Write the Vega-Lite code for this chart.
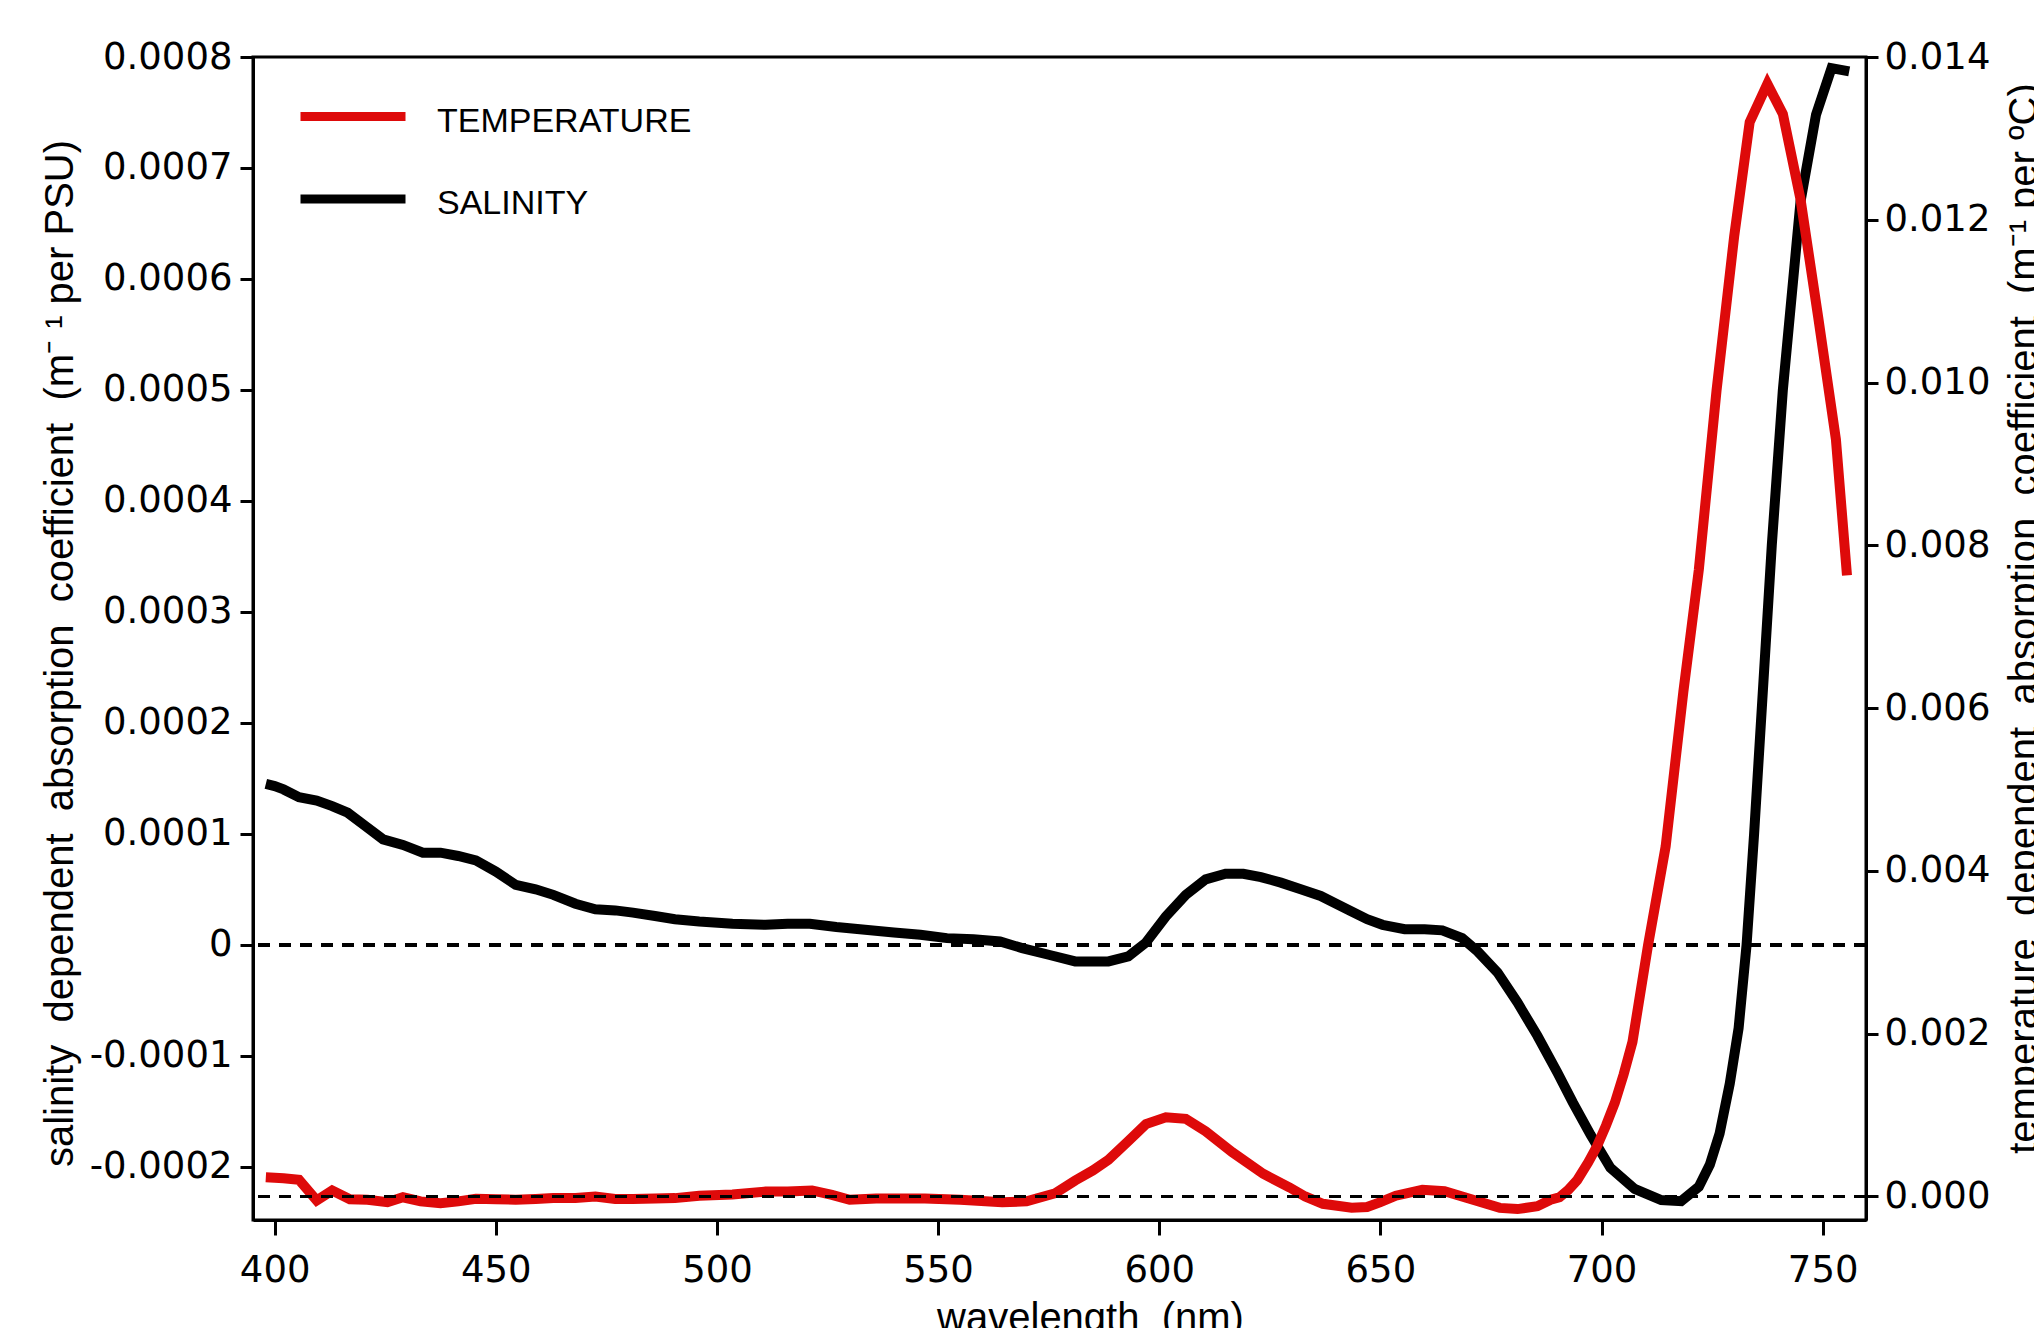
{
  "$schema": "https://vega.github.io/schema/vega-lite/v6.json",
  "width": 1613,
  "height": 1163,
  "autosize": {"type": "none"},
  "padding": {"left": 253, "top": 57, "right": 168, "bottom": 108},
  "background": "white",
  "config": {
    "font": "Liberation Sans",
    "view": {"stroke": "black", "strokeWidth": 3},
    "axis": {
      "grid": false,
      "domainColor": "black",
      "domainWidth": 3,
      "tickColor": "black",
      "tickWidth": 3,
      "labelColor": "black",
      "titleColor": "black",
      "labelFont": "DejaVu Sans",
      "titleFont": "Liberation Sans",
      "labelFontSize": 37,
      "titleFontSize": 40,
      "titleFontWeight": "normal",
      "labelOverlap": false,
      "labelFlush": false
    }
  },
  "data": {
    "values": [
      {"wl": 398, "v": 0.000145, "s": "SALINITY"},
      {"wl": 400, "v": 0.000143, "s": "SALINITY"},
      {"wl": 402, "v": 0.000140, "s": "SALINITY"},
      {"wl": 405.5, "v": 0.000133, "s": "SALINITY"},
      {"wl": 409.5, "v": 0.000130, "s": "SALINITY"},
      {"wl": 413, "v": 0.000125, "s": "SALINITY"},
      {"wl": 416.5, "v": 0.000119, "s": "SALINITY"},
      {"wl": 420.5, "v": 0.000107, "s": "SALINITY"},
      {"wl": 424.5, "v": 0.000095, "s": "SALINITY"},
      {"wl": 429, "v": 0.000090, "s": "SALINITY"},
      {"wl": 433.5, "v": 0.000083, "s": "SALINITY"},
      {"wl": 437.5, "v": 0.000083, "s": "SALINITY"},
      {"wl": 441.5, "v": 0.000080, "s": "SALINITY"},
      {"wl": 445.5, "v": 0.000076, "s": "SALINITY"},
      {"wl": 450, "v": 0.000066, "s": "SALINITY"},
      {"wl": 454.5, "v": 0.000054, "s": "SALINITY"},
      {"wl": 459, "v": 0.000050, "s": "SALINITY"},
      {"wl": 463, "v": 0.000045, "s": "SALINITY"},
      {"wl": 468, "v": 0.000037, "s": "SALINITY"},
      {"wl": 472.5, "v": 0.000032, "s": "SALINITY"},
      {"wl": 477, "v": 0.000031, "s": "SALINITY"},
      {"wl": 481, "v": 0.000029, "s": "SALINITY"},
      {"wl": 486, "v": 0.000026, "s": "SALINITY"},
      {"wl": 490.5, "v": 0.000023, "s": "SALINITY"},
      {"wl": 496, "v": 0.000021, "s": "SALINITY"},
      {"wl": 503.5, "v": 0.000019, "s": "SALINITY"},
      {"wl": 511, "v": 0.000018, "s": "SALINITY"},
      {"wl": 516, "v": 0.000019, "s": "SALINITY"},
      {"wl": 521, "v": 0.000019, "s": "SALINITY"},
      {"wl": 527, "v": 0.000016, "s": "SALINITY"},
      {"wl": 533.5, "v": 0.0000135, "s": "SALINITY"},
      {"wl": 540, "v": 0.000011, "s": "SALINITY"},
      {"wl": 546, "v": 0.000009, "s": "SALINITY"},
      {"wl": 552, "v": 0.000006, "s": "SALINITY"},
      {"wl": 558, "v": 0.000005, "s": "SALINITY"},
      {"wl": 564, "v": 0.000003, "s": "SALINITY"},
      {"wl": 569, "v": -0.000003, "s": "SALINITY"},
      {"wl": 575, "v": -0.000009, "s": "SALINITY"},
      {"wl": 581, "v": -0.000015, "s": "SALINITY"},
      {"wl": 588.5, "v": -0.000015, "s": "SALINITY"},
      {"wl": 593, "v": -0.0000105, "s": "SALINITY"},
      {"wl": 597, "v": 0.000002, "s": "SALINITY"},
      {"wl": 601.5, "v": 0.0000255, "s": "SALINITY"},
      {"wl": 606, "v": 0.000045, "s": "SALINITY"},
      {"wl": 610.5, "v": 0.000059, "s": "SALINITY"},
      {"wl": 615, "v": 0.000064, "s": "SALINITY"},
      {"wl": 619, "v": 0.000064, "s": "SALINITY"},
      {"wl": 623, "v": 0.000061, "s": "SALINITY"},
      {"wl": 627.5, "v": 0.000056, "s": "SALINITY"},
      {"wl": 632, "v": 0.000050, "s": "SALINITY"},
      {"wl": 636.5, "v": 0.000044, "s": "SALINITY"},
      {"wl": 640, "v": 0.000037, "s": "SALINITY"},
      {"wl": 643.5, "v": 0.000030, "s": "SALINITY"},
      {"wl": 647, "v": 0.000023, "s": "SALINITY"},
      {"wl": 650.5, "v": 0.000018, "s": "SALINITY"},
      {"wl": 655.5, "v": 0.000014, "s": "SALINITY"},
      {"wl": 660, "v": 0.000014, "s": "SALINITY"},
      {"wl": 664, "v": 0.000013, "s": "SALINITY"},
      {"wl": 668.5, "v": 0.000006, "s": "SALINITY"},
      {"wl": 672, "v": -0.000006, "s": "SALINITY"},
      {"wl": 676.5, "v": -0.000025, "s": "SALINITY"},
      {"wl": 681, "v": -0.000052, "s": "SALINITY"},
      {"wl": 685.5, "v": -0.000082, "s": "SALINITY"},
      {"wl": 690, "v": -0.000115, "s": "SALINITY"},
      {"wl": 693.5, "v": -0.000142, "s": "SALINITY"},
      {"wl": 697.5, "v": -0.000171, "s": "SALINITY"},
      {"wl": 702, "v": -0.000201, "s": "SALINITY"},
      {"wl": 707.5, "v": -0.000220, "s": "SALINITY"},
      {"wl": 713.5, "v": -0.000230, "s": "SALINITY"},
      {"wl": 718, "v": -0.000231, "s": "SALINITY"},
      {"wl": 722, "v": -0.000218, "s": "SALINITY"},
      {"wl": 724.5, "v": -0.000198, "s": "SALINITY"},
      {"wl": 726.7, "v": -0.000170, "s": "SALINITY"},
      {"wl": 729, "v": -0.000125, "s": "SALINITY"},
      {"wl": 731, "v": -0.000075, "s": "SALINITY"},
      {"wl": 732.8, "v": 0.0, "s": "SALINITY"},
      {"wl": 734.5, "v": 0.000100, "s": "SALINITY"},
      {"wl": 736.5, "v": 0.000230, "s": "SALINITY"},
      {"wl": 738.5, "v": 0.000360, "s": "SALINITY"},
      {"wl": 741, "v": 0.000500, "s": "SALINITY"},
      {"wl": 745, "v": 0.000670, "s": "SALINITY"},
      {"wl": 748.5, "v": 0.000748, "s": "SALINITY"},
      {"wl": 752, "v": 0.000790, "s": "SALINITY"},
      {"wl": 756, "v": 0.000787, "s": "SALINITY"},

      {"wl": 398, "v": 0.000237, "s": "TEMPERATURE"},
      {"wl": 402, "v": 0.000225, "s": "TEMPERATURE"},
      {"wl": 405.5, "v": 0.000205, "s": "TEMPERATURE"},
      {"wl": 409.5, "v": -0.000049, "s": "TEMPERATURE"},
      {"wl": 413, "v": 0.000074, "s": "TEMPERATURE"},
      {"wl": 417, "v": -0.000033, "s": "TEMPERATURE"},
      {"wl": 421, "v": -0.000040, "s": "TEMPERATURE"},
      {"wl": 425.5, "v": -0.000070, "s": "TEMPERATURE"},
      {"wl": 429, "v": -0.000010, "s": "TEMPERATURE"},
      {"wl": 433, "v": -0.000060, "s": "TEMPERATURE"},
      {"wl": 437.5, "v": -0.000082, "s": "TEMPERATURE"},
      {"wl": 441.5, "v": -0.000060, "s": "TEMPERATURE"},
      {"wl": 445.5, "v": -0.000028, "s": "TEMPERATURE"},
      {"wl": 450, "v": -0.000035, "s": "TEMPERATURE"},
      {"wl": 454.5, "v": -0.000040, "s": "TEMPERATURE"},
      {"wl": 459, "v": -0.000030, "s": "TEMPERATURE"},
      {"wl": 463, "v": -0.000020, "s": "TEMPERATURE"},
      {"wl": 468, "v": -0.000018, "s": "TEMPERATURE"},
      {"wl": 472.5, "v": 0.0, "s": "TEMPERATURE"},
      {"wl": 477, "v": -0.000030, "s": "TEMPERATURE"},
      {"wl": 481, "v": -0.000030, "s": "TEMPERATURE"},
      {"wl": 486, "v": -0.000025, "s": "TEMPERATURE"},
      {"wl": 490.5, "v": -0.000020, "s": "TEMPERATURE"},
      {"wl": 496, "v": 0.000010, "s": "TEMPERATURE"},
      {"wl": 503.5, "v": 0.000025, "s": "TEMPERATURE"},
      {"wl": 511, "v": 0.000060, "s": "TEMPERATURE"},
      {"wl": 516, "v": 0.000060, "s": "TEMPERATURE"},
      {"wl": 521.5, "v": 0.000074, "s": "TEMPERATURE"},
      {"wl": 526, "v": 0.000020, "s": "TEMPERATURE"},
      {"wl": 530, "v": -0.000040, "s": "TEMPERATURE"},
      {"wl": 536, "v": -0.000025, "s": "TEMPERATURE"},
      {"wl": 547, "v": -0.000025, "s": "TEMPERATURE"},
      {"wl": 555, "v": -0.000040, "s": "TEMPERATURE"},
      {"wl": 564.5, "v": -0.000070, "s": "TEMPERATURE"},
      {"wl": 570, "v": -0.000060, "s": "TEMPERATURE"},
      {"wl": 576.5, "v": 0.000040, "s": "TEMPERATURE"},
      {"wl": 581, "v": 0.000197, "s": "TEMPERATURE"},
      {"wl": 585, "v": 0.000320, "s": "TEMPERATURE"},
      {"wl": 588.5, "v": 0.000450, "s": "TEMPERATURE"},
      {"wl": 593, "v": 0.000680, "s": "TEMPERATURE"},
      {"wl": 597, "v": 0.000890, "s": "TEMPERATURE"},
      {"wl": 601.5, "v": 0.000974, "s": "TEMPERATURE"},
      {"wl": 606, "v": 0.000954, "s": "TEMPERATURE"},
      {"wl": 610.5, "v": 0.000800, "s": "TEMPERATURE"},
      {"wl": 616.5, "v": 0.000544, "s": "TEMPERATURE"},
      {"wl": 623.5, "v": 0.000279, "s": "TEMPERATURE"},
      {"wl": 629.5, "v": 0.000110, "s": "TEMPERATURE"},
      {"wl": 633, "v": 0.0, "s": "TEMPERATURE"},
      {"wl": 637, "v": -0.000090, "s": "TEMPERATURE"},
      {"wl": 643.5, "v": -0.000139, "s": "TEMPERATURE"},
      {"wl": 647, "v": -0.000130, "s": "TEMPERATURE"},
      {"wl": 650, "v": -0.000070, "s": "TEMPERATURE"},
      {"wl": 653.5, "v": 0.000010, "s": "TEMPERATURE"},
      {"wl": 659.5, "v": 0.000082, "s": "TEMPERATURE"},
      {"wl": 664.5, "v": 0.000065, "s": "TEMPERATURE"},
      {"wl": 671.5, "v": -0.000050, "s": "TEMPERATURE"},
      {"wl": 677, "v": -0.000140, "s": "TEMPERATURE"},
      {"wl": 681, "v": -0.000155, "s": "TEMPERATURE"},
      {"wl": 685.5, "v": -0.000120, "s": "TEMPERATURE"},
      {"wl": 688.5, "v": -0.000040, "s": "TEMPERATURE"},
      {"wl": 690.5, "v": -0.000010, "s": "TEMPERATURE"},
      {"wl": 692.5, "v": 0.000080, "s": "TEMPERATURE"},
      {"wl": 694.5, "v": 0.000200, "s": "TEMPERATURE"},
      {"wl": 697, "v": 0.000420, "s": "TEMPERATURE"},
      {"wl": 699, "v": 0.000620, "s": "TEMPERATURE"},
      {"wl": 701, "v": 0.000870, "s": "TEMPERATURE"},
      {"wl": 703, "v": 0.001150, "s": "TEMPERATURE"},
      {"wl": 705, "v": 0.001500, "s": "TEMPERATURE"},
      {"wl": 707, "v": 0.001900, "s": "TEMPERATURE"},
      {"wl": 710.5, "v": 0.003080, "s": "TEMPERATURE"},
      {"wl": 714.5, "v": 0.004300, "s": "TEMPERATURE"},
      {"wl": 718.5, "v": 0.006200, "s": "TEMPERATURE"},
      {"wl": 722, "v": 0.007700, "s": "TEMPERATURE"},
      {"wl": 726, "v": 0.009900, "s": "TEMPERATURE"},
      {"wl": 730, "v": 0.011800, "s": "TEMPERATURE"},
      {"wl": 733.5, "v": 0.013200, "s": "TEMPERATURE"},
      {"wl": 737.5, "v": 0.013670, "s": "TEMPERATURE"},
      {"wl": 741, "v": 0.013300, "s": "TEMPERATURE"},
      {"wl": 745, "v": 0.012250, "s": "TEMPERATURE"},
      {"wl": 749, "v": 0.010800, "s": "TEMPERATURE"},
      {"wl": 753, "v": 0.009300, "s": "TEMPERATURE"},
      {"wl": 755.5, "v": 0.007630, "s": "TEMPERATURE"}
    ]
  },
  "layer": [
    {
      "layer": [
        {
          "transform": [{"filter": "datum.s == 'SALINITY'"}],
          "mark": {"type": "line", "strokeWidth": 10, "strokeJoin": "miter"},
          "encoding": {
            "x": {
              "field": "wl", "type": "quantitative",
              "title": "wavelength \u00a0(nm)",
              "scale": {"domain": [395.1, 759.8], "nice": false, "zero": false},
              "axis": {"values": [400, 450, 500, 550, 600, 650, 700, 750], "tickSize": 15, "labelPadding": 17, "titleX": 837, "titleY": 110, "titleAlign": "center", "titleBaseline": "alphabetic"}
            },
            "y": {
              "field": "v", "type": "quantitative",
              "title": "salinity \u00a0dependent \u00a0absorption \u00a0coefficient \u00a0(m⁻ ¹ per PSU)",
              "scale": {"domain": [-0.000248, 0.0008], "nice": false, "zero": false},
              "axis": {"orient": "left", "values": [-0.0002, -0.0001, 0, 0.0001, 0.0002, 0.0003, 0.0004, 0.0005, 0.0006, 0.0007, 0.0008], "labelExpr": "datum.value == 0 ? '0' : (datum.value < 0 ? '-' : '') + format(abs(datum.value), '.4f')", "tickSize": 13, "labelPadding": 8, "titleX": -181, "titleY": 596, "titleAngle": 270, "titleAlign": "center", "titleBaseline": "alphabetic"}
            },
            "color": {
              "field": "s", "type": "nominal",
              "scale": {"domain": ["TEMPERATURE", "SALINITY"], "range": ["#de0a0a", "#000000"]},
              "legend": {"title": null, "orient": "none", "legendX": 43, "legendY": 39.5, "direction": "vertical", "symbolType": "stroke", "symbolSize": 11025, "symbolStrokeWidth": 9, "labelFontSize": 34, "labelFont": "Liberation Sans", "labelColor": "black", "labelLimit": 600, "labelOffset": 27, "rowPadding": 40.5, "clipHeight": 40, "padding": 0, "offset": 0, "encoding": {"labels": {"dy": {"value": 5}}}}
            }
          }
        },
        {
          "mark": {"type": "rule", "strokeDash": [12, 9], "strokeWidth": 3, "color": "black"},
          "encoding": {
            "y": {
              "datum": 0, "type": "quantitative",
              "title": "salinity \u00a0dependent \u00a0absorption \u00a0coefficient \u00a0(m⁻ ¹ per PSU)",
              "axis": {"orient": "left", "values": [-0.0002, -0.0001, 0, 0.0001, 0.0002, 0.0003, 0.0004, 0.0005, 0.0006, 0.0007, 0.0008], "labelExpr": "datum.value == 0 ? '0' : (datum.value < 0 ? '-' : '') + format(abs(datum.value), '.4f')", "tickSize": 13, "labelPadding": 8, "titleX": -181, "titleY": 596, "titleAngle": 270, "titleAlign": "center", "titleBaseline": "alphabetic"}
            }
          }
        }
      ]
    },
    {
      "layer": [
        {
          "transform": [{"filter": "datum.s == 'TEMPERATURE'"}],
          "mark": {"type": "line", "strokeWidth": 10, "strokeJoin": "miter"},
          "encoding": {
            "x": {
              "field": "wl", "type": "quantitative",
              "title": "wavelength \u00a0(nm)",
              "scale": {"domain": [395.1, 759.8], "nice": false, "zero": false},
              "axis": {"values": [400, 450, 500, 550, 600, 650, 700, 750], "tickSize": 15, "labelPadding": 17, "titleX": 837, "titleY": 110, "titleAlign": "center", "titleBaseline": "alphabetic"}
            },
            "y": {
              "field": "v", "type": "quantitative",
              "title": "temperature \u00a0dependent \u00a0absorption \u00a0coefficient \u00a0(m⁻¹ per ºC)",
              "scale": {"domain": [-0.000289, 0.014], "nice": false, "zero": false},
              "axis": {"orient": "right", "values": [0, 0.002, 0.004, 0.006, 0.008, 0.010, 0.012, 0.014], "format": ".3f", "tickSize": 12, "labelPadding": 6, "titleX": 170, "titleY": 561, "titleAngle": 270, "titleAlign": "center", "titleBaseline": "alphabetic"}
            },
            "color": {
              "field": "s", "type": "nominal",
              "scale": {"domain": ["TEMPERATURE", "SALINITY"], "range": ["#de0a0a", "#000000"]},
              "legend": {"title": null, "orient": "none", "legendX": 43, "legendY": 39.5, "direction": "vertical", "symbolType": "stroke", "symbolSize": 11025, "symbolStrokeWidth": 9, "labelFontSize": 34, "labelFont": "Liberation Sans", "labelColor": "black", "labelLimit": 600, "labelOffset": 27, "rowPadding": 40.5, "clipHeight": 40, "padding": 0, "offset": 0, "encoding": {"labels": {"dy": {"value": 5}}}}
            }
          }
        },
        {
          "mark": {"type": "rule", "strokeDash": [12, 9], "strokeWidth": 3, "color": "black"},
          "encoding": {
            "y": {
              "datum": 0, "type": "quantitative",
              "title": "temperature \u00a0dependent \u00a0absorption \u00a0coefficient \u00a0(m⁻¹ per ºC)",
              "axis": {"orient": "right", "values": [0, 0.002, 0.004, 0.006, 0.008, 0.010, 0.012, 0.014], "format": ".3f", "tickSize": 12, "labelPadding": 6, "titleX": 170, "titleY": 561, "titleAngle": 270, "titleAlign": "center", "titleBaseline": "alphabetic"}
            }
          }
        }
      ]
    }
  ],
  "resolve": {"scale": {"y": "independent"}}
}
